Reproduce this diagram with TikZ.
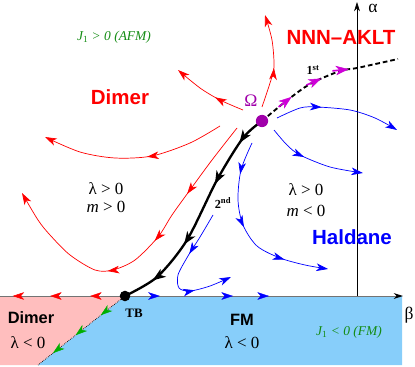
\documentclass[tikz,border=0pt]{standalone}
\usepackage{fontspec}
\setmainfont{Liberation Serif}
\setsansfont{Liberation Sans}
\usetikzlibrary{arrows.meta,decorations.markings}

\definecolor{omegadot}{RGB}{160,0,170}
\definecolor{omegaflow}{RGB}{205,0,215}
\definecolor{dimerpink}{RGB}{255,190,190}
\definecolor{fmblue}{RGB}{135,206,250}
\definecolor{jgreen}{RGB}{20,140,20}
\definecolor{tbgreen}{RGB}{0,175,0}

\tikzset{
  flowtip/.tip={Stealth[length=10pt,width=6.5pt,inset=2.8pt]},
  bigtip/.tip={Stealth[length=11pt,width=8pt,inset=3pt]},
  tipat/.style={postaction={decorate,decoration={markings,mark=at position #1 with {\arrow{flowtip}}}}},
  bigtipat/.style={postaction={decorate,decoration={markings,mark=at position #1 with {\arrow{bigtip}}}}},
  tailtipat/.style={postaction={decorate,decoration={markings,mark=at position #1 with {\draw[line width=1.4pt] (-14pt,0pt) -- (-6pt,0pt); \arrow{bigtip}}}}},
  flow/.style={line width=0.6pt,-{flowtip}},
  phase/.style={font=\fontsize{17.5}{20}\selectfont\sffamily\bfseries},
  lowphase/.style={font=\fontsize{14}{16}\selectfont\sffamily\bfseries},
  cond/.style={font=\fontsize{14.5}{16}\selectfont},
  coupling/.style={text=jgreen,font=\fontsize{11.5}{13}\selectfont\itshape},
  fixpoint/.style={circle,inner sep=0pt,minimum size=#1},
}

\begin{document}
\begin{tikzpicture}[x=0.03cm,y=-0.03cm]
  \useasboundingbox (0,0) rectangle (415,367);

  \coordinate (tb) at (125,296);
  \coordinate (omega) at (262,121);
  \coordinate (corner) at (38,365);
  \coordinate (origin) at (357,296);
  \coordinate (betaend) at (403,296);
  \coordinate (alphaend) at (357,2);
  \coordinate (aklt) at (398,59);

  % regions below the beta axis
  \fill[fmblue] (tb) -- (402,296) -- (402,365) -- (corner) -- cycle;
  \fill[dimerpink] (0,296) -- (tb) -- (corner) -- (0,365) -- cycle;

  % axes
  \draw[black!55, line width=0.8pt, -{Stealth[length=8pt,width=5pt,color=black]}] (0,296) -- (betaend);
  \draw[line width=0.5pt, -{Stealth[length=8pt,width=5pt]}] (origin) -- (alphaend);
  \node[font=\fontsize{15}{17}\selectfont] (alpha) at (373,8) {α};
  \node[font=\fontsize{15}{17}\selectfont] (beta) at (409,315) {β};

  % TB line
  \draw[densely dotted, line width=0.6pt] (tb) -- (corner);
  \path[tbgreen, tipat=0.28, tipat=0.57, tipat=0.83] (tb) -- (corner);

  % flows on the beta axis
  \path[red, tipat=0.28, tipat=0.6, tipat=0.9] (tb) -- (0,296);
  \path[blue, tipat=0.126, tipat=0.39, tipat=0.52] (tb) -- (402,296);

  % red flows
  \draw[red, flow, tipat=0.43] plot[smooth] coordinates {(262,107) (270,83) (274,67) (272,40) (265,15)};
  \draw[red, flow, tipat=0.4] plot[smooth] coordinates {(243,110) (220,100) (200,88) (178,70)};
  \draw[red, flow, tipat=0.43] plot[smooth] coordinates {(220,126) (190,143) (152,156) (115,158) (80,152) (45,137)};
  \draw[red, flow, tipat=0.26, tipat=0.44, tipat=0.62] plot[smooth] coordinates {(237,128) (212,160) (190,190) (172,215) (158,237) (135,260) (113,270) (95,270) (70,255) (50,235) (38,220) (22,193)};

  % blue flows
  \draw[blue, flow, tipat=0.37] plot[smooth] coordinates {(277,118) (300,108) (317,107) (350,110) (375,118) (397,130)};
  \draw[blue, flow, tipat=0.4] plot[smooth] coordinates {(274,130) (287,145) (300,155) (330,167) (363,173)};
  \draw[blue, flow, tipat=0.18, tipat=0.47, tipat=0.76] plot[smooth] coordinates {(252,143) (241,170) (238,200) (243,225) (257,246) (280,258) (305,265) (328,269)};
  \draw[blue, flow, tipat=0.33, tipat=0.72] plot[smooth] coordinates {(213,215) (200,237) (188,256) (178,275) (179,288) (190,291) (210,286) (231,277)};

  % first order line towards NNN-AKLT
  \draw[line width=1.6pt, dash pattern=on 4pt off 2.5pt] plot[smooth] coordinates {(omega) (285,102) (310,84) (340,71) (357,68) (aklt)};
  \path[omegaflow, tailtipat=0.25, tailtipat=0.48, tailtipat=0.67] plot[smooth] coordinates {(omega) (285,102) (310,84) (340,71) (357,68) (aklt)};

  % second order line Omega -> TB
  \draw[line width=2pt, bigtipat=0.14, bigtipat=0.35, bigtipat=0.65, bigtipat=0.86] plot[smooth] coordinates {(omega) (243,138) (217,180) (187,240) (157,277) (tb)};

  % fixed points
  \node[fixpoint=9pt, fill=black] (TB) at (tb) {};
  \node[fixpoint=10.5pt, fill=omegadot] (Omega) at (omega) {};
  \node[text=omegadot, font=\fontsize{15}{17}\selectfont] (omegalabel) at (251,101) {Ω};
  \node[font=\fontsize{11}{13}\selectfont\bfseries] (tblabel) at (134,313) {TB};
  \node[font=\fontsize{10.5}{12}\selectfont\bfseries] (first) at (313,70) {1\textsuperscript{st}};
  \node[font=\fontsize{10.5}{12}\selectfont\bfseries] (second) at (223,203) {2\textsuperscript{nd}};

  % phases
  \node[phase, text=red] (dimer) at (120,97) {Dimer};
  \node[phase, text=red] (nnnaklt) at (341,37) {NNN–AKLT};
  \node[phase, text=blue] (haldane) at (352,237) {Haldane};
  \node[lowphase] (fm) at (242,320) {FM};
  \node[lowphase] (dimerlow) at (31,318) {Dimer};

  \node[cond] (lamleft) at (106,189) {λ > 0};
  \node[cond] (mleft) at (106,207) {\textit{m} > 0};
  \node[cond] (lamright) at (306,190) {λ > 0};
  \node[cond] (mright) at (306,211) {\textit{m} < 0};
  \node[cond] (lamfm) at (242,343) {λ < 0};
  \node[cond] (lamdimer) at (28,343) {λ < 0};

  \node[coupling] (afm) at (114,37) {J\textsubscript{\upshape 1} > 0 (AFM)};
  \node[coupling] (ferro) at (349,332) {J\textsubscript{\upshape 1} < 0 (FM)};
\end{tikzpicture}
\end{document}
